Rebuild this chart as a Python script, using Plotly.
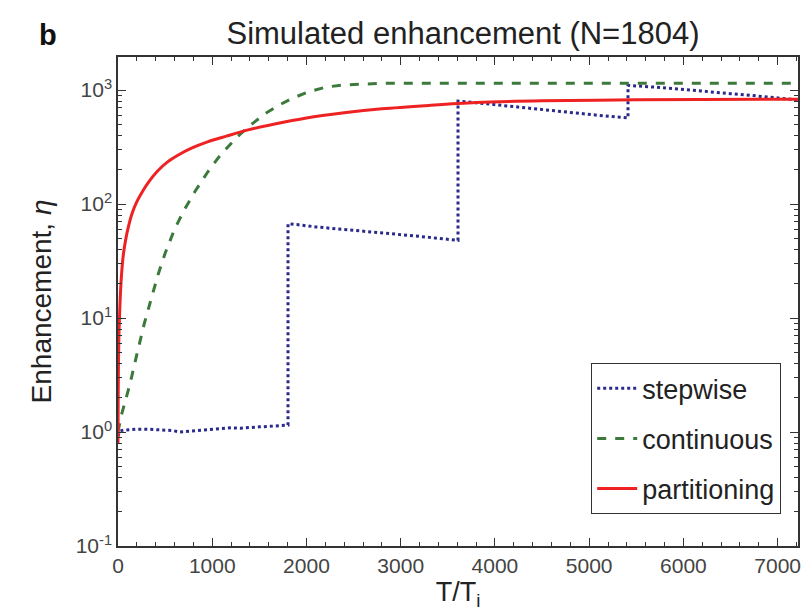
import plotly.graph_objects as go

# ---------------- data ----------------
stepwise_x = [0, 20, 60, 120, 200, 300, 400, 500, 580, 650, 720, 800, 900, 1000, 1100, 1200,
              1300, 1400, 1500, 1600, 1700, 1780, 1804,
              1804, 1900, 2100, 2300, 2500, 2700, 2900, 3100, 3300, 3500, 3608,
              3608, 3700, 3900, 4100, 4300, 4500, 4700, 4900, 5100, 5300, 5412,
              5412, 5500, 5700, 5900, 6100, 6300, 6500, 6700, 6900, 7100, 7216]
stepwise_y = [0.92, 1.02, 1.04, 1.05, 1.06, 1.06, 1.05, 1.05, 1.03, 1.0, 1.01, 1.03, 1.04, 1.06, 1.07, 1.09,
              1.08, 1.10, 1.11, 1.12, 1.13, 1.15, 1.15,
              67, 66, 63, 61, 59, 57, 55, 53, 51, 49, 48,
              800, 790, 760, 730, 700, 670, 650, 620, 600, 580, 570,
              1100, 1090, 1060, 1030, 1000, 960, 930, 900, 870, 840, 820]

continuous_x = [0, 30, 80, 130, 200, 280, 350, 425, 500, 600, 700, 820, 950, 1065, 1200, 1310,
                1430, 1560, 1700, 1840, 2000, 2200, 2400, 2600, 2800, 3200, 4000, 5000, 6000, 7216]
continuous_y = [1.0, 1.35, 1.9, 2.7, 4.8, 9, 14.5, 24, 37, 60, 88, 130, 190, 255, 340, 420,
                510, 620, 730, 840, 950, 1060, 1110, 1135, 1145, 1150, 1150, 1150, 1150, 1150]

partition_x = [0, 2, 5, 10, 20, 35, 55, 80, 110, 150, 200, 260, 330, 420, 520, 640, 780, 950,
               1150, 1380, 1650, 2000, 2400, 2800, 3300, 3800, 4500, 5500, 7216]
partition_y = [0.79, 2.0, 4.0, 7.1, 12.6, 22.4, 35, 48, 63, 83, 105, 129, 158, 195, 232, 269, 309, 351,
               394, 447, 501, 569, 631, 684, 733, 776, 804, 822, 832]

x_tickvals = [0, 1000, 2000, 3000, 4000, 5000, 6000, 7000]
y_tickvals = [0.1, 1, 10, 100, 1000]
y_ticktext = ["10<sup>-1</sup>", "10<sup>0</sup>", "10<sup>1</sup>", "10<sup>2</sup>", "10<sup>3</sup>"]
y_minor = [m * 10 ** e for e in range(-1, 4) for m in range(2, 10) if m * 10 ** e < 1950]

FONT = "Liberation Sans, Arial, sans-serif"

fig = go.Figure()
fig.add_trace(go.Scatter(x=stepwise_x, y=stepwise_y, mode="lines", name="stepwise",
                         legendgroup="a",
                         line=dict(color="#2a2a8c", width=3, dash="dot")))
fig.add_trace(go.Scatter(x=continuous_x, y=continuous_y, mode="lines", name="continuous",
                         legendgroup="b",
                         line=dict(color="#3c7a3c", width=3, dash="dash")))
fig.add_trace(go.Scatter(x=partition_x, y=partition_y, mode="lines", name="partitioning",
                         legendgroup="c", line_shape="spline",
                         line=dict(color="#ee2222", width=3, smoothing=0.8)))

axis_common = dict(showline=True, linecolor="#333333", linewidth=1.5, mirror="ticks",
                   ticks="inside", ticklen=8, tickwidth=1.2, tickcolor="#333333",
                   showgrid=False, zeroline=False,
                   tickfont=dict(family=FONT, size=21, color="#444444"))

fig.update_xaxes(range=[0, 7216], tickmode="array", tickvals=x_tickvals,
                 title=dict(text="T/T<sub>i</sub>", font=dict(family=FONT, size=27, color="#222222"),
                            standoff=0),
                 minor=dict(ticks="inside", ticklen=4, dtick=200, tickcolor="#333333", showgrid=False),
                 **axis_common)
fig.update_yaxes(type="log", range=[-1, 3.29], tickmode="array", tickvals=y_tickvals,
                 ticktext=y_ticktext,
                 title=dict(text="Enhancement, <i>η</i>", font=dict(family=FONT, size=28, color="#222222"),
                            standoff=16),
                 minor=dict(ticks="inside", ticklen=4, tickmode="array", tickvals=y_minor,
                            tickcolor="#333333", showgrid=False),
                 **axis_common)

fig.update_layout(
    width=812, height=615,
    margin=dict(l=110, r=22, t=49, b=77),
    paper_bgcolor="white", plot_bgcolor="white",
    title=dict(text="Simulated enhancement (N=1804)", x=455 / 812, xref="container", xanchor="center",
               y=1 - 25 / 615, yref="container", yanchor="middle",
               font=dict(family=FONT, size=31, color="#222222")),
    legend=dict(x=0.975, y=0.374, xanchor="right", yanchor="top",
                bordercolor="#333333", borderwidth=1.2, bgcolor="white",
                font=dict(family=FONT, size=27, color="#222222"),
                tracegroupgap=12, itemwidth=40),
    annotations=[dict(text="<b>b</b>", xref="paper", yref="paper", x=-0.103, y=1.045,
                      xanchor="center", yanchor="middle", showarrow=False,
                      font=dict(family=FONT, size=29, color="#111111"))],
    showlegend=True,
)

fig.write_html("out.html")
